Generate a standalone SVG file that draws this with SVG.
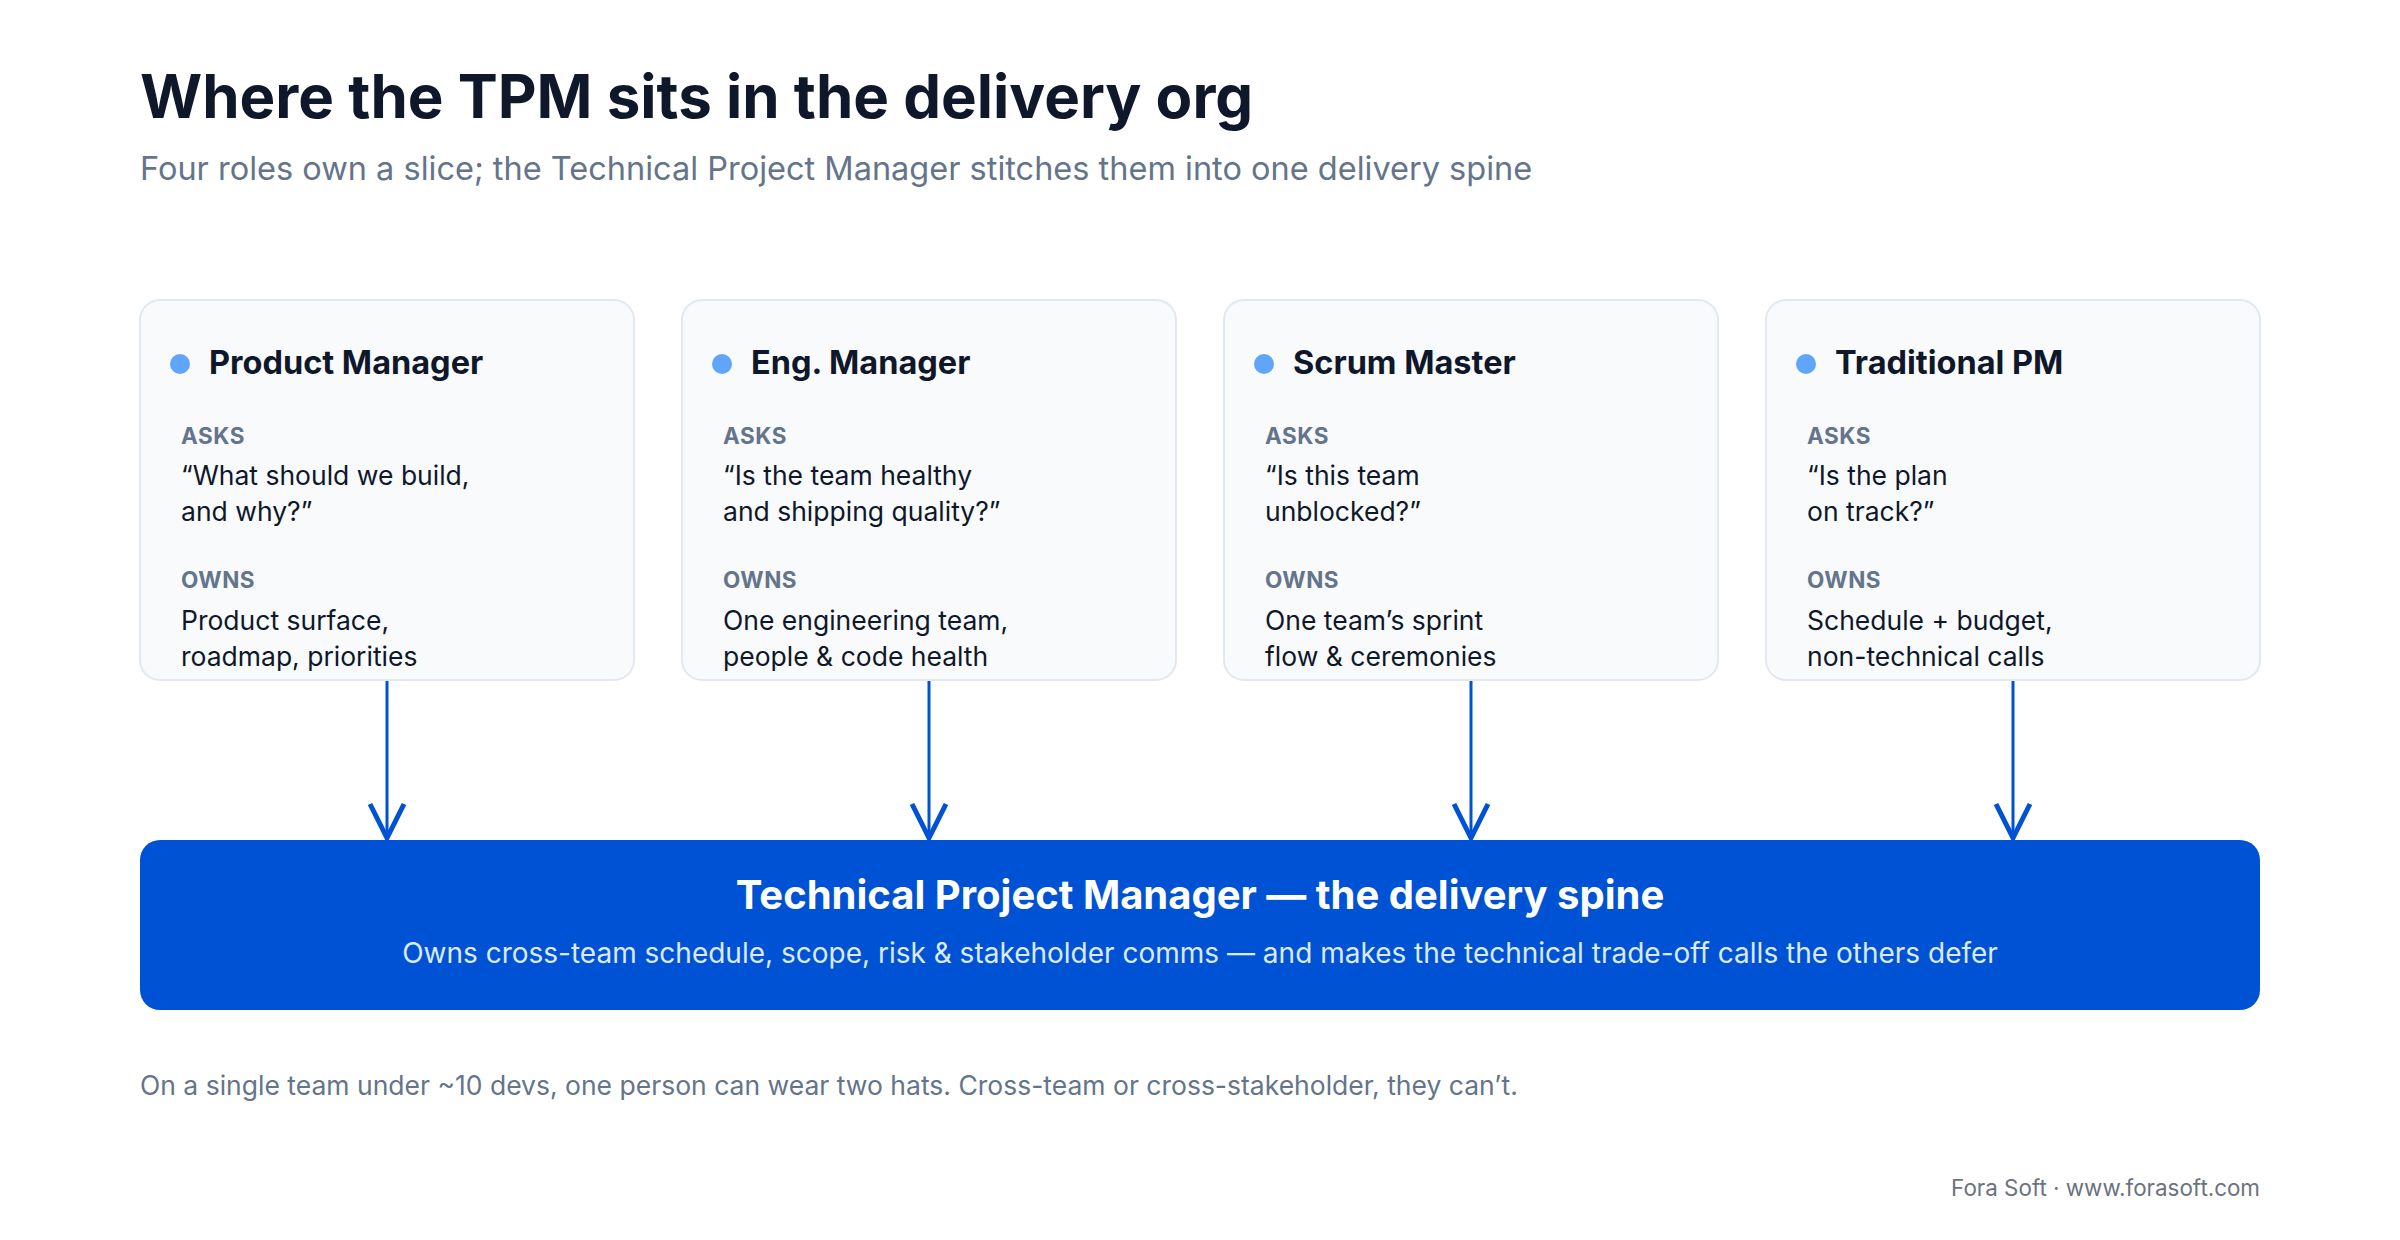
<svg xmlns="http://www.w3.org/2000/svg" width="2400" height="1240" viewBox="0 0 2400 1240">
<defs>
<style>
text{font-family:Inter,"Noto Sans","Liberation Sans",sans-serif}
.title{font-size:60px;font-weight:700;fill:#0f172a}
.sub{font-size:32.5px;font-weight:400;fill:#64748b}
.card{fill:#f8fafc;stroke:#e2e8f0;stroke-width:2}
.dot{fill:#60a5fa}
.ct{font-size:32.5px;font-weight:700;fill:#0f172a}
.lab{font-size:22.5px;font-weight:700;fill:#64748b;letter-spacing:0.5px}
.body{font-size:26.5px;font-weight:400;fill:#0f172a}
.spine{fill:#0052d4}
.st{font-size:40px;font-weight:700;fill:#ffffff}
.ss{font-size:28px;font-weight:400;fill:#dbeafe}
.note{font-size:26.5px;font-weight:400;fill:#64748b}
.brand{font-size:22.4px;font-weight:400;fill:#6b7280}
.conn{stroke:#0052d4;stroke-width:3;fill:none}
.head{stroke:#0052d4;stroke-width:5;fill:none;stroke-linecap:butt;stroke-linejoin:miter}
</style>
</defs>
<rect width="2400" height="1240" fill="#ffffff"/>
<text class="title" x="140" y="118">Where the TPM sits in the delivery org</text>
<text class="sub" x="140" y="180">Four roles own a slice; the Technical Project Manager stitches them into one delivery spine</text>

<g id="connectors">
<line class="conn" x1="387" y1="680" x2="387" y2="836"/>
<path class="head" d="M370 804 L387 838 L404 804"/>
<line class="conn" x1="929" y1="680" x2="929" y2="836"/>
<path class="head" d="M912 804 L929 838 L946 804"/>
<line class="conn" x1="1471" y1="680" x2="1471" y2="836"/>
<path class="head" d="M1454 804 L1471 838 L1488 804"/>
<line class="conn" x1="2013" y1="680" x2="2013" y2="836"/>
<path class="head" d="M1996 804 L2013 838 L2030 804"/>
</g>

<g id="node-product-manager">
<rect class="card" x="140" y="300" width="494" height="380" rx="20"/>
<circle class="dot" cx="180" cy="364" r="10"/>
<text class="ct" x="209" y="374">Product Manager</text>
<text class="lab" x="181" y="444">ASKS</text>
<text class="body" x="181" y="485">“What should we build,</text>
<text class="body" x="181" y="521">and why?”</text>
<text class="lab" x="181" y="588">OWNS</text>
<text class="body" x="181" y="630">Product surface,</text>
<text class="body" x="181" y="666">roadmap, priorities</text>
</g>

<g id="node-eng-manager">
<rect class="card" x="682" y="300" width="494" height="380" rx="20"/>
<circle class="dot" cx="722" cy="364" r="10"/>
<text class="ct" x="751" y="374">Eng. Manager</text>
<text class="lab" x="723" y="444">ASKS</text>
<text class="body" x="723" y="485">“Is the team healthy</text>
<text class="body" x="723" y="521">and shipping quality?”</text>
<text class="lab" x="723" y="588">OWNS</text>
<text class="body" x="723" y="630">One engineering team,</text>
<text class="body" x="723" y="666">people &amp; code health</text>
</g>

<g id="node-scrum-master">
<rect class="card" x="1224" y="300" width="494" height="380" rx="20"/>
<circle class="dot" cx="1264" cy="364" r="10"/>
<text class="ct" x="1293" y="374">Scrum Master</text>
<text class="lab" x="1265" y="444">ASKS</text>
<text class="body" x="1265" y="485">“Is this team</text>
<text class="body" x="1265" y="521">unblocked?”</text>
<text class="lab" x="1265" y="588">OWNS</text>
<text class="body" x="1265" y="630">One team’s sprint</text>
<text class="body" x="1265" y="666">flow &amp; ceremonies</text>
</g>

<g id="node-traditional-pm">
<rect class="card" x="1766" y="300" width="494" height="380" rx="20"/>
<circle class="dot" cx="1806" cy="364" r="10"/>
<text class="ct" x="1835" y="374">Traditional PM</text>
<text class="lab" x="1807" y="444">ASKS</text>
<text class="body" x="1807" y="485">“Is the plan</text>
<text class="body" x="1807" y="521">on track?”</text>
<text class="lab" x="1807" y="588">OWNS</text>
<text class="body" x="1807" y="630">Schedule + budget,</text>
<text class="body" x="1807" y="666">non-technical calls</text>
</g>

<g id="node-tpm">
<rect class="spine" x="140" y="840" width="2120" height="170" rx="20"/>
<text class="st" x="1200" y="909" text-anchor="middle">Technical Project Manager — the delivery spine</text>
<text class="ss" x="1200" y="963" text-anchor="middle">Owns cross-team schedule, scope, risk &amp; stakeholder comms — and makes the technical trade-off calls the others defer</text>
</g>

<text class="note" x="140" y="1095">On a single team under ~10 devs, one person can wear two hats. Cross-team or cross-stakeholder, they can’t.</text>
<text class="brand" x="2260" y="1196" text-anchor="end">Fora Soft · www.forasoft.com</text>
</svg>
